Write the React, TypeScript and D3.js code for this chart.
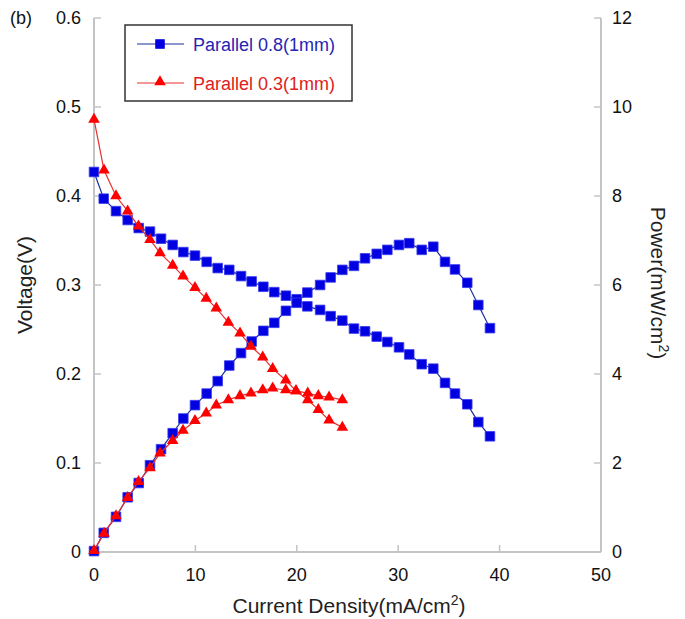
import React from "react";
import * as d3 from "d3";

const xTicks = [0, 10, 20, 30, 40, 50];
const vTicks = [0, 0.1, 0.2, 0.3, 0.4, 0.5, 0.6];
const pTicks = [0, 2, 4, 6, 8, 10, 12];

const blueI = [0, 0.96, 2.17, 3.32, 4.41, 5.52, 6.61, 7.76, 8.81, 9.96, 11.11, 12.2, 13.34, 14.5, 15.55, 16.7, 17.78, 18.93, 19.99, 21.04, 22.3, 23.34, 24.49, 25.64, 26.73, 27.88, 28.93, 30.08, 31.09, 32.32, 33.46, 34.62, 35.6, 36.81, 37.9, 39.05];
const blueV = [0.427, 0.397, 0.383, 0.373, 0.364, 0.36, 0.352, 0.345, 0.337, 0.333, 0.326, 0.319, 0.317, 0.31, 0.304, 0.298, 0.292, 0.288, 0.284, 0.276, 0.272, 0.265, 0.26, 0.251, 0.248, 0.242, 0.236, 0.23, 0.222, 0.211, 0.206, 0.19, 0.178, 0.166, 0.146, 0.13];
const blueP = [0.02, 0.43, 0.79, 1.23, 1.55, 1.95, 2.31, 2.67, 3.0, 3.3, 3.56, 3.84, 4.19, 4.47, 4.73, 4.97, 5.15, 5.42, 5.6, 5.83, 6.0, 6.17, 6.34, 6.43, 6.6, 6.7, 6.79, 6.9, 6.94, 6.79, 6.86, 6.52, 6.35, 6.05, 5.55, 5.03];

const redI = [0, 0.99, 2.17, 3.32, 4.39, 5.52, 6.51, 7.76, 8.78, 9.96, 11.07, 12.06, 13.25, 14.4, 15.48, 16.64, 17.62, 18.91, 19.92, 21.08, 22.12, 23.18, 24.49];
const redV = [0.486, 0.429, 0.4, 0.383, 0.366, 0.351, 0.336, 0.322, 0.31, 0.297, 0.285, 0.274, 0.258, 0.246, 0.231, 0.219, 0.206, 0.193, 0.181, 0.171, 0.16, 0.148, 0.14];
const redP = [0.03, 0.42, 0.81, 1.22, 1.58, 1.89, 2.22, 2.5, 2.73, 2.95, 3.12, 3.3, 3.42, 3.51, 3.57, 3.64, 3.68, 3.64, 3.62, 3.57, 3.51, 3.48, 3.42];

const seriesNames = ["Parallel 0.8(1mm)", "Parallel 0.3(1mm)"];

const W = 685, H = 619;
const L = 94, R = 601, T = 18, B = 552;
const FONT = "'Liberation Sans', Arial, sans-serif";
const AXC = "#c4c4c4";

const BLUE_LINE = "#1c2c9c";
const BLUE_FILL = "#0000e0";
const RED_LINE = "#e83030";
const RED_FILL = "#ff0000";

export default function App() {
  const x = d3.scaleLinear().domain([0, 50]).range([L, R]);
  const yV = d3.scaleLinear().domain([0, 0.6]).range([B, T]);
  const yP = d3.scaleLinear().domain([0, 12]).range([B, T]);

  const sq = d3.symbol().type(d3.symbolSquare).size(92)()!;
  const tri = d3.symbol().type(d3.symbolTriangle).size(58)()!;

  const mk = (xs: number[], ys: number[]) => xs.map((v, i) => [v, ys[i]] as [number, number]);
  const lineV = d3.line<[number, number]>().x(d => x(d[0])).y(d => yV(d[1]));
  const lineP = d3.line<[number, number]>().x(d => x(d[0])).y(d => yP(d[1]));

  const bV = mk(blueI, blueV), bP = mk(blueI, blueP);
  const rV = mk(redI, redV), rP = mk(redI, redP);

  return (
    <svg width={W} height={H} style={{ position: "absolute", left: 0, top: 0, background: "#fff" }} fontFamily={FONT}>
      <rect width={W} height={H} fill="#fff" />
      {/* axes */}
      <line x1={L} x2={L} y1={T} y2={B} stroke={AXC} strokeWidth={2} />
      <line x1={R} x2={R} y1={T} y2={B} stroke={AXC} strokeWidth={2} />
      <line x1={L} x2={R} y1={B} y2={B} stroke={AXC} strokeWidth={2} />
      {vTicks.map(t => (
        <g key={"v" + t}>
          <line x1={L} x2={L + 7} y1={yV(t)} y2={yV(t)} stroke={AXC} strokeWidth={1.5} />
          <text x={81} y={yV(t)} dy="0.36em" textAnchor="end" fontSize={18} fill="#111">{t === 0 ? "0" : t.toFixed(1)}</text>
        </g>
      ))}
      {pTicks.map(t => (
        <g key={"p" + t}>
          <line x1={R - 7} x2={R} y1={yP(t)} y2={yP(t)} stroke={AXC} strokeWidth={1.5} />
          <text x={612} y={yP(t)} dy="0.36em" textAnchor="start" fontSize={18} fill="#111">{t}</text>
        </g>
      ))}
      {xTicks.map(t => (
        <g key={"x" + t}>
          <line x1={x(t)} x2={x(t)} y1={B - 7} y2={B} stroke={AXC} strokeWidth={1.5} />
          <text x={x(t)} y={581} textAnchor="middle" fontSize={18} fill="#111">{t}</text>
        </g>
      ))}
      <text x={10} y={24} fontSize={18} fill="#111">(b)</text>
      <text x={349} y={613} textAnchor="middle" fontSize={21} fill="#222">
        Current Density(mA/cm<tspan fontSize={14} dy={-8}>2</tspan><tspan dy={8}>)</tspan>
      </text>
      <text transform={`translate(32,285) rotate(-90)`} textAnchor="middle" fontSize={21} fill="#222">Voltage(V)</text>
      <text transform={`translate(651,283) rotate(90)`} textAnchor="middle" fontSize={21} fill="#222">
        Power(mW/cm<tspan fontSize={14} dy={-8}>2</tspan><tspan dy={8}>)</tspan>
      </text>

      {/* blue series */}
      <path d={lineV(bV)!} fill="none" stroke={BLUE_LINE} strokeWidth={1.2} />
      <path d={lineP(bP)!} fill="none" stroke={BLUE_LINE} strokeWidth={1.2} />
      {bV.map((d, i) => (
        <path key={"bv" + i} d={sq} transform={`translate(${x(d[0])},${yV(d[1])})`} fill={BLUE_FILL} stroke="#3a3af0" strokeWidth={0.8} />
      ))}
      {bP.map((d, i) => (
        <path key={"bp" + i} d={sq} transform={`translate(${x(d[0])},${yP(d[1])})`} fill={BLUE_FILL} stroke="#3a3af0" strokeWidth={0.8} />
      ))}

      {/* red series */}
      <path d={lineV(rV)!} fill="none" stroke={RED_LINE} strokeWidth={1.2} />
      <path d={lineP(rP)!} fill="none" stroke={RED_LINE} strokeWidth={1.2} />
      {rV.map((d, i) => (
        <path key={"rv" + i} d={tri} transform={`translate(${x(d[0])},${yV(d[1])})`} fill={RED_FILL} />
      ))}
      {rP.map((d, i) => (
        <path key={"rp" + i} d={tri} transform={`translate(${x(d[0])},${yP(d[1])})`} fill={RED_FILL} />
      ))}

      {/* legend */}
      <rect x={125} y={25} width={227} height={76} fill="#fff" stroke="#333" strokeWidth={1.5} />
      <line x1={137} x2={184} y1={44} y2={44} stroke={BLUE_LINE} strokeWidth={1.2} />
      <path d={sq} transform="translate(160,44)" fill={BLUE_FILL} />
      <text x={193} y={50.5} fontSize={18} fill="#2525b5">{seriesNames[0]}</text>
      <line x1={137} x2={184} y1={83} y2={83} stroke={RED_LINE} strokeWidth={1.2} />
      <path d={tri} transform="translate(160,82)" fill={RED_FILL} />
      <text x={193} y={89.5} fontSize={18} fill="#e02020">{seriesNames[1]}</text>
    </svg>
  );
}
